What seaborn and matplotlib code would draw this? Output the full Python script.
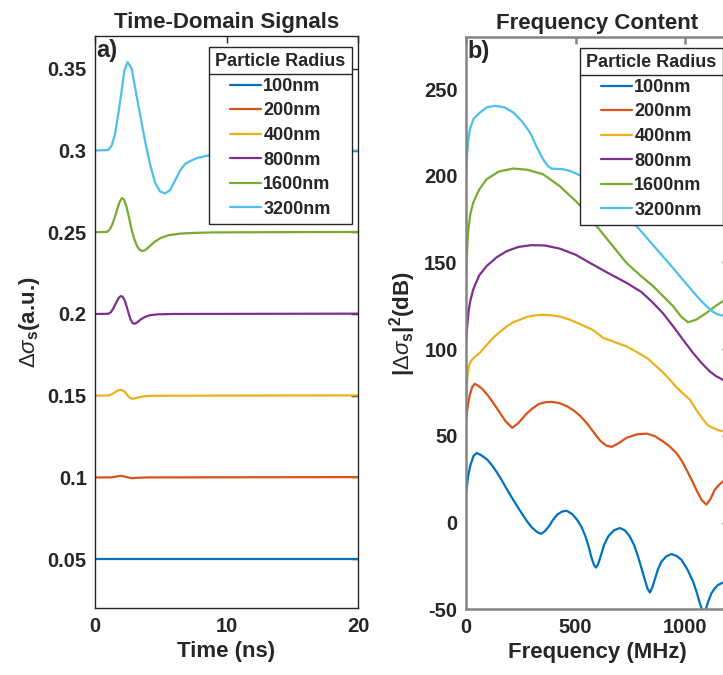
import pandas as pd
import numpy as np
from matplotlib import pyplot as plt
from matplotlib.lines import Line2D
import seaborn as sns

# series names + matlab default colours
radii = ['100nm', '200nm', '400nm', '800nm', '1600nm', '3200nm']
colors = ['#0072BD', '#D95319', '#EDB120', '#7E2F8E', '#77AC30', '#4DBEEE']

# ---- panel a: time domain (ns, a.u.)
t_100 = [0, 20]
v_100 = [0.05, 0.05]
t_200 = [0, 1.2, 1.6, 2.0, 2.4, 2.8, 3.3, 4, 20]
v_200 = [0.1, 0.1, 0.1005, 0.101, 0.1002, 0.0995, 0.0998, 0.1, 0.1002]
t_400 = [0, 1.0, 1.3, 1.6, 1.8, 2.0, 2.2, 2.4, 2.6, 2.8, 3.0, 3.3, 3.7, 4.3, 5.5, 20]
v_400 = [0.15, 0.1501, 0.1510, 0.1525, 0.1534, 0.1536, 0.1528, 0.1510, 0.1490, 0.1481,
         0.1483, 0.1490, 0.1496, 0.1499, 0.15, 0.1502]
t_800 = [0, 1.0, 1.2, 1.4, 1.6, 1.8, 1.95, 2.1, 2.25, 2.4, 2.55, 2.7, 2.85, 3.0, 3.2, 3.45,
         3.8, 4.2, 4.8, 6, 20]
v_800 = [0.2, 0.2001, 0.2010, 0.2035, 0.2068, 0.2098, 0.2109, 0.2106, 0.2085, 0.2048, 0.2005,
         0.1968, 0.1945, 0.1940, 0.1948, 0.1965, 0.1982, 0.1993, 0.1998, 0.2000, 0.2002]
t_1600 = [0, 0.9, 1.1, 1.3, 1.5, 1.7, 1.9, 2.05, 2.2, 2.4, 2.6, 2.8, 3.0, 3.2, 3.4, 3.6, 3.8,
          4.1, 4.5, 5.0, 5.6, 6.5, 7.5, 9, 12, 20]
v_1600 = [0.25, 0.2502, 0.2515, 0.2545, 0.2590, 0.2645, 0.2690, 0.2709, 0.2700, 0.2655,
          0.2585, 0.2510, 0.2455, 0.2415, 0.2392, 0.2385, 0.2390, 0.2410, 0.2440, 0.2465,
          0.2482, 0.2492, 0.2496, 0.2499, 0.2500, 0.2502]
t_3200 = [0, 1.0, 1.27, 1.52, 1.77, 2.03, 2.23, 2.48, 2.79, 3.04, 3.42, 3.80, 4.18, 4.56,
          4.94, 5.32, 5.70, 6.08, 6.46, 6.84, 7.22, 7.8, 8.5, 9.5, 11, 13, 16, 20]
v_3200 = [0.3000, 0.3003, 0.3030, 0.3100, 0.3224, 0.3367, 0.3490, 0.3541, 0.3500, 0.3388,
          0.3224, 0.3060, 0.2917, 0.2805, 0.2750, 0.2737, 0.2757, 0.2815, 0.2876, 0.2917,
          0.2935, 0.2955, 0.2968, 0.2982, 0.2993, 0.2998, 0.3000, 0.3000]

# ---- panel b: spectra (MHz, dB)
f_100 = [0, 3, 10, 21, 35, 49, 70, 97, 120, 143, 165, 188, 211, 234, 257, 279, 300, 318, 332,
         343, 360, 378, 397, 416, 438, 459, 483, 507, 527, 545, 560, 573, 584, 593, 603, 614,
         630, 649, 675, 702, 725, 747, 767, 785, 801, 816, 828, 839, 850, 861, 876, 892, 914,
         937, 960, 983, 1010, 1036, 1052, 1067, 1078, 1089, 1104, 1120, 1135, 1150, 1173, 1200]
d_100 = [17.5, 19, 27, 33.4, 38.5, 40.1, 38.8, 36.3, 32.8, 28.6, 24, 18.9, 14, 9.3, 4.8, 0.6,
         -2.8, -4.8, -6, -6.5, -5, -2.3, 1.5, 4.5, 6.3, 6.8, 5, 1.6, -2.5, -8, -14, -20.5, -24.5,
         -26, -24, -19.6, -13, -8, -4.5, -3.2, -4.5, -8, -13, -19.6, -26.5, -33, -38, -40.4,
         -37.5, -33, -27, -22.5, -19.5, -18.2, -19.2, -21.5, -27, -34, -40, -46.5, -50.5, -52,
         -46, -40.8, -38, -36, -34.6, -33.5]
f_200 = [0, 3, 10, 18, 28, 40, 55, 75, 97, 122, 150, 180, 211, 240, 272, 300, 333, 363, 393,
         428, 462, 493, 523, 550, 580, 610, 638, 664, 697, 732, 778, 824, 862, 899, 930, 960,
         985, 1006, 1030, 1051, 1075, 1097, 1115, 1135, 1155, 1173, 1200]
d_200 = [57.5, 62, 69, 73.8, 78, 80, 79, 77, 73.8, 69.5, 64.2, 58.5, 54.6, 57.5, 62.2, 65.5,
         68.4, 69.4, 69.6, 68.8, 67, 64.5, 61.3, 57.5, 52.5, 47.5, 44.5, 43.6, 45.8, 48.8, 50.8,
         51.3, 49.8, 46.8, 43.8, 40.1, 35.5, 30.5, 24.5, 18.9, 13, 10.3, 13.5, 18.9, 21.8, 23.7,
         25.5]
f_400 = [0, 3, 8, 15, 25, 40, 64, 95, 124, 155, 185, 215, 246, 275, 300, 330, 352, 390, 428,
         474, 520, 580, 626, 680, 732, 778, 830, 869, 900, 930, 960, 990, 1021, 1051, 1082,
         1105, 1127, 1150, 1173, 1200]
d_400 = [70, 78, 86, 91, 93.5, 95.5, 98, 102.5, 106.5, 110, 113, 115.5, 117, 118.5, 119.2,
         119.7, 119.8, 119.5, 118.8, 117, 114.5, 111, 106.5, 104, 101.6, 98.5, 94.5, 90, 86.5,
         82.4, 78, 74.5, 70.9, 65, 59.4, 56, 54.6, 53.3, 52.6, 52.8]
f_800 = [0, 5, 12, 20, 33, 60, 94, 140, 185, 240, 299, 360, 428, 500, 565, 640, 732, 800,
         854, 900, 945, 990, 1036, 1075, 1112, 1140, 1171, 1200]
d_800 = [103.6, 112, 122, 128, 134.4, 142.5, 147.9, 153, 156.5, 159, 160, 159.8, 158, 154.5,
         149.8, 144.5, 138.3, 133, 126.7, 120.5, 113.2, 105.5, 97.8, 92, 87.2, 84.5, 82.4, 81]
f_1600 = [0, 3, 7, 11, 20, 33, 60, 94, 150, 216, 280, 352, 428, 501, 550, 596, 660, 732, 800,
          854, 900, 945, 980, 1013, 1050, 1097, 1140, 1171, 1200]
d_1600 = [134, 150, 162, 169, 178, 184.5, 192, 198, 202.5, 204.2, 203.5, 200.9, 194, 185.4,
          179, 171, 161, 149.8, 142, 136.3, 130.5, 124.8, 119, 115.5, 117, 120.9, 125, 127.6, 130]
f_3200 = [0, 5, 10, 18, 35, 64, 95, 132, 175, 216, 255, 292, 325, 352, 375, 390, 415, 443, 475,
          501, 540, 580, 630, 680, 730, 778, 830, 884, 940, 990, 1030, 1067, 1100, 1127, 1150,
          1171, 1200]
d_3200 = [198, 212, 220, 227, 233, 236.5, 239.5, 240.4, 239.5, 236.5, 231.5, 225, 216, 209.5,
          205.5, 204.2, 204, 203.8, 202.8, 201.4, 199, 195.5, 190, 184, 177.5, 171, 163.5,
          155.6, 147.5, 140, 134, 128.6, 124.5, 121.5, 120, 119.4, 119]

time_x = [t_100, t_200, t_400, t_800, t_1600, t_3200]
time_y = [v_100, v_200, v_400, v_800, v_1600, v_3200]
freq_x = [f_100, f_200, f_400, f_800, f_1600, f_3200]
freq_y = [d_100, d_200, d_400, d_800, d_1600, d_3200]


def long_df(xs, ys):
    parts = [pd.DataFrame({'x': x, 'y': y, 'radius': r}) for x, y, r in zip(xs, ys, radii)]
    return pd.concat(parts, ignore_index=True)


sns.set_theme(style='white')
plt.rcParams['font.family'] = ['Liberation Sans', 'DejaVu Sans']
plt.rcParams['font.weight'] = 'bold'
plt.rcParams['axes.unicode_minus'] = False
plt.rcParams['mathtext.fontset'] = 'custom'
plt.rcParams['mathtext.rm'] = 'Liberation Sans:weight=normal'
plt.rcParams['mathtext.it'] = 'Liberation Sans:italic:weight=normal'
plt.rcParams['mathtext.bf'] = 'Liberation Sans:bold'

fig = plt.figure(figsize=(7.23, 6.75), dpi=100)
ax1 = fig.add_axes([0.1314, 0.0990, 0.3638, 0.8475])
ax2 = fig.add_axes([0.6445, 0.0975, 0.3638, 0.8475])

pal = dict(zip(radii, colors))
sns.lineplot(data=long_df(time_x, time_y), x='x', y='y', hue='radius', hue_order=radii,
             palette=pal, estimator=None, linewidth=1.6, ax=ax1)
sns.lineplot(data=long_df(freq_x, freq_y), x='x', y='y', hue='radius', hue_order=radii,
             palette=pal, estimator=None, linewidth=1.6, ax=ax2)

ax1.set_xlim(0, 20)
ax1.set_ylim(0.02, 0.37)
ax1.set_xticks([0, 10, 20])
ax1.set_yticks([0.05, 0.1, 0.15, 0.2, 0.25, 0.3, 0.35])
ax1.set_yticklabels(['0.05', '0.1', '0.15', '0.2', '0.25', '0.3', '0.35'])
ax1.set_xlabel('Time (ns)', fontsize=16, fontweight='bold')
ax1.set_ylabel(r'$\Delta\sigma_\mathbf{s}$(a.u.)', fontsize=16, fontweight='bold')
ax1.set_title('Time-Domain Signals', fontsize=16, fontweight='bold')

ax2.set_xlim(0, 1200)
ax2.set_ylim(-50, 280)
ax2.set_xticks([0, 500, 1000])
ax2.set_yticks([-50, 0, 50, 100, 150, 200, 250])
ax2.set_xlabel('Frequency (MHz)', fontsize=16, fontweight='bold')
ax2.set_ylabel(r'|$\Delta\sigma_\mathbf{s}$|$^\mathbf{2}$(dB)', fontsize=16, fontweight='bold')
ax2.set_title('Frequency Content', fontsize=16, fontweight='bold')

for ax, sc, lw in [(ax1, '#262626', 1.0), (ax2, '#858585', 1.8)]:
    ax.tick_params(direction='in', top=True, right=True, length=5, width=lw, color=sc,
                   labelsize=14.5, labelcolor='#262626', pad=6)
    for s in ax.spines.values():
        s.set_color(sc)
        s.set_linewidth(lw)
    for lab in ax.get_xticklabels() + ax.get_yticklabels():
        lab.set_fontweight('bold')

ax1.text(0.005, 0.995, 'a)', transform=ax1.transAxes, fontsize=17, fontweight='bold',
         va='top', ha='left')
ax2.text(0.005, 0.995, 'b)', transform=ax2.transAxes, fontsize=17, fontweight='bold',
         va='top', ha='left')

legs = []
for ax in (ax1, ax2):
    h, l = ax.get_legend_handles_labels()
    leg = ax.legend(h, l, title='Particle Radius', loc='upper right',
                    bbox_to_anchor=(0.976, 0.981), borderaxespad=0, fancybox=False,
                    edgecolor='#262626', framealpha=1, fontsize=13, handlelength=1.7,
                    handletextpad=0.15, labelspacing=0.42, borderpad=0.35,
                    alignment='center',
                    title_fontproperties={'weight': 'bold', 'size': 13})
    leg.get_frame().set_linewidth(1.0)
    for txt in leg.get_texts():
        txt.set_fontweight('bold')
    for ln in leg.get_lines():
        ln.set_linewidth(1.6)
    legs.append(leg)

# separator line under legend titles (matlab style)
fig.canvas.draw()
r = fig.canvas.get_renderer()
for leg in legs:
    fb = leg.get_frame().get_window_extent(r)
    tb = leg.get_title().get_window_extent(r)
    y = tb.y0 - 4
    fig.add_artist(Line2D([fb.x0, fb.x1], [y, y], transform=None, color='#262626',
                          linewidth=1.0))

fig.savefig('out.png', dpi=100)
